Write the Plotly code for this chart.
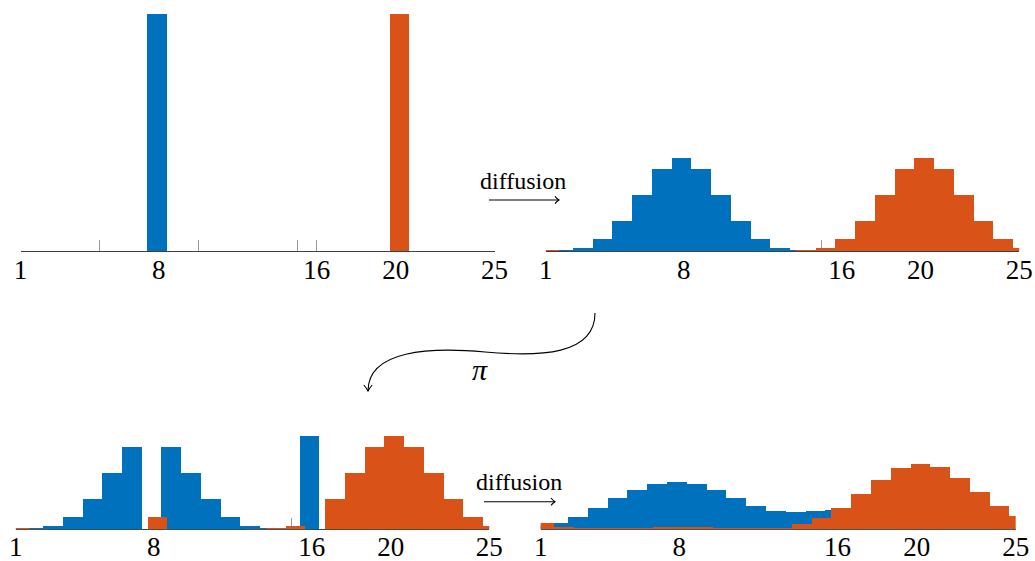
import plotly.graph_objects as go

W, H = 1035, 561

# ---------------- data ----------------
states = list(range(1, 26))
tick_vals = [1, 5, 8, 10, 15, 16, 20, 25]
tick_text = ["1", "", "8", "", "", "16", "20", "25"]

blue_init = [0, 0, 0, 0, 0, 0, 0, 1.0, 0, 0, 0, 0, 0, 0, 0, 0, 0, 0, 0, 0, 0, 0, 0, 0, 0]
orange_init = [0, 0, 0, 0, 0, 0, 0, 0, 0, 0, 0, 0, 0, 0, 0, 0, 0, 0, 0, 1.0, 0, 0, 0, 0, 0]

blue_diff = [0.0005, 0.002, 0.008, 0.026, 0.065, 0.121, 0.176, 0.200, 0.176, 0.121, 0.065, 0.026,
             0.008, 0.002, 0.0005, 0, 0, 0, 0, 0, 0, 0, 0, 0, 0]
orange_diff = [0.002, 0.0005, 0, 0, 0, 0, 0, 0, 0, 0, 0, 0, 0.0005, 0.002, 0.008, 0.026, 0.065,
               0.121, 0.176, 0.200, 0.176, 0.121, 0.065, 0.026, 0.008]

blue_perm = [0.0005, 0.002, 0.008, 0.026, 0.065, 0.121, 0.176, 0, 0.176, 0.121, 0.065, 0.026,
             0.008, 0.002, 0.0005, 0.200, 0, 0, 0, 0, 0, 0, 0, 0, 0]
orange_perm = [0.002, 0.0005, 0, 0, 0, 0, 0, 0.026, 0, 0, 0, 0, 0.0005, 0.002, 0.008, 0, 0.065,
               0.121, 0.176, 0.200, 0.176, 0.121, 0.065, 0.026, 0.008]

blue_final = [0.008, 0.013, 0.027, 0.045, 0.067, 0.085, 0.097, 0.101, 0.097, 0.085, 0.068, 0.051,
              0.040, 0.038, 0.040, 0.042, 0.036, 0.026, 0.016, 0.009, 0.004, 0.002, 0.001, 0.0005, 0.0005]
orange_final = [0.014, 0.005, 0.003, 0.003, 0.003, 0.004, 0.005, 0.005, 0.005, 0.004, 0.003, 0.003,
                0.004, 0.011, 0.024, 0.045, 0.075, 0.106, 0.130, 0.140, 0.133, 0.110, 0.080, 0.051, 0.028]

BLUE = "#0072BD"
ORANGE = "#D95319"
FONT = "'Liberation Serif', Tinos, 'Times New Roman', 'DejaVu Serif', serif"


def px(x):
    return x / W


def py(y):
    return 1 - y / H


def pt(x, y):
    return f"{px(x):.5f},{py(y):.5f}"


# panel geometry (pixels): x of value 1, x of value 25, baseline y, top y, y range max, label standoff
panels = [
    dict(x0=20.6, x1=494.5, base=251.0, top=14.0, ymax=1.0, b=blue_init, o=orange_init, so=-5),
    dict(x0=545.7, x1=1019.2, base=251.0, top=251.0 - 0.25 * 470, ymax=0.25, b=blue_diff, o=orange_diff, so=-5),
    dict(x0=15.7, x1=489.3, base=529.3, top=529.3 - 0.25 * 470, ymax=0.25, b=blue_perm, o=orange_perm, so=-7),
    dict(x0=540.7, x1=1015.7, base=529.3, top=529.3 - 0.25 * 470, ymax=0.25, b=blue_final, o=orange_final, so=-7),
]

fig = go.Figure()
layout = dict(
    width=W, height=H, margin=dict(l=0, r=0, t=0, b=0, autoexpand=False),
    paper_bgcolor="white", plot_bgcolor="white", showlegend=False,
    barmode="overlay", bargap=0,
)

for i, p in enumerate(panels, start=1):
    xa = "x" if i == 1 else f"x{i}"
    ya = "y" if i == 1 else f"y{i}"
    fig.add_trace(go.Bar(x=states, y=p["b"], xaxis=xa, yaxis=ya, offset=-0.63, width=1.0,
                         marker=dict(color=BLUE, line=dict(width=0))))
    fig.add_trace(go.Bar(x=states, y=p["o"], xaxis=xa, yaxis=ya, offset=-0.33, width=1.0,
                         marker=dict(color=ORANGE, line=dict(width=0))))
    xkey = "xaxis" if i == 1 else f"xaxis{i}"
    ykey = "yaxis" if i == 1 else f"yaxis{i}"
    layout[xkey] = dict(
        domain=[px(p["x0"]), px(p["x1"])], range=[1, 25], anchor=ya,
        tickmode="array", tickvals=tick_vals, ticktext=tick_text,
        ticks="inside", ticklen=11, tickwidth=1, tickcolor="#9a9a9a",
        showline=True, linecolor="#404040", linewidth=1,
        showgrid=False, zeroline=False, layer="below traces",
        tickfont=dict(family=FONT, size=27, color="black"),
        ticklabelstandoff=p["so"],
        automargin=False, fixedrange=True,
    )
    layout[ykey] = dict(
        domain=[py(p["base"]), py(p["top"])], range=[0, p["ymax"]], anchor=xa,
        visible=False, automargin=False, fixedrange=True,
    )

fig.update_layout(**layout)

shapes = []
LINE = dict(color="black", width=1.1)


def path_shape(d):
    return dict(type="path", xref="paper", yref="paper", path=d, line=LINE, layer="above")


# diffusion arrows
for (xa_, xb_, y_) in [(489, 559, 200.0), (484, 555, 501.7)]:
    shapes.append(path_shape(f"M {pt(xa_, y_)} L {pt(xb_, y_)}"))
    shapes.append(path_shape(
        f"M {pt(xb_ - 4, y_ - 3.7)} Q {pt(xb_ - 2, y_ - 1.2)} {pt(xb_, y_)} "
        f"Q {pt(xb_ - 2, y_ + 1.2)} {pt(xb_ - 4, y_ + 3.7)}"))

# permutation curve
shapes.append(path_shape(
    f"M {pt(595, 313)} C {pt(595, 355)} {pt(540, 357)} {pt(485, 352)} "
    f"C {pt(430, 347)} {pt(368, 350)} {pt(368, 391)}"))
shapes.append(path_shape(
    f"M {pt(363.8, 385)} Q {pt(366.8, 388.5)} {pt(368, 391)} "
    f"Q {pt(369.2, 388.5)} {pt(372.2, 385)}"))

fig.update_layout(shapes=shapes)

annotations = [
    dict(text="diffusion", x=px(523), y=py(181), xref="paper", yref="paper",
         showarrow=False, xanchor="center", yanchor="middle",
         font=dict(family=FONT, size=24, color="black")),
    dict(text="diffusion", x=px(518.5), y=py(482), xref="paper", yref="paper",
         showarrow=False, xanchor="center", yanchor="middle",
         font=dict(family=FONT, size=24, color="black")),
    dict(text="<i>π</i>", x=px(480), y=py(369), xref="paper", yref="paper",
         showarrow=False, xanchor="center", yanchor="middle",
         font=dict(family=FONT, size=30, color="black")),
]
fig.update_layout(annotations=annotations)

fig.write_html("out.html")
